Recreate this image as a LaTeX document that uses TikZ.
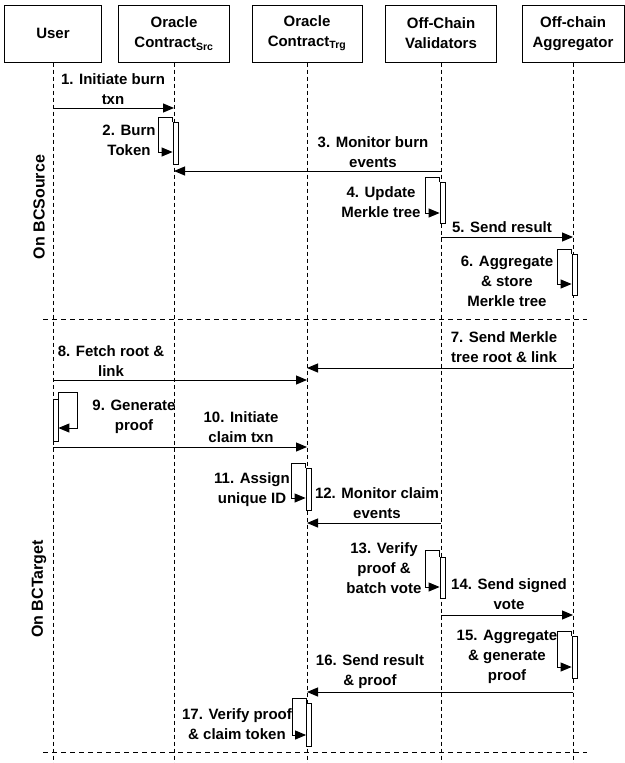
\documentclass[tikz,border=0pt]{standalone}
\usepackage{fontspec}
\setmainfont{Liberation Sans}
\usetikzlibrary{arrows.meta}
\begin{document}
\begin{tikzpicture}[x=1pt,y=-1pt,line width=1pt,
  every node/.style={font=\bfseries\fontsize{15pt}{20pt}\selectfont,align=center,inner sep=0pt},
  head/.style={draw,line width=1pt,minimum height=57pt},
  act/.style={draw,fill=white,line width=0.8pt,minimum width=5pt,anchor=north},
  life/.style={line width=0.9pt,dash pattern=on 4pt off 3pt},
  sep/.style={line width=1pt,dash pattern=on 5pt off 4pt},
  side/.style={rotate=90,font=\bfseries\fontsize{16pt}{20pt}\selectfont},
  >={Triangle[length=11pt,width=9pt]}]
\useasboundingbox (0,0) rectangle (624,763);
\coordinate (bot) at (0,763);
\node[head,minimum width=97pt] (user) at (53,33.5) {User};
\node[head,minimum width=111pt] (src) at (174,33.5) {Oracle\\Contract\textsubscript{Src}};
\node[head,minimum width=110pt] (trg) at (307,33.5) {Oracle\\Contract\textsubscript{Trg}};
\node[head,minimum width=111pt] (val) at (441,33.5) {Off-Chain\\Validators};
\node[head,minimum width=102pt] (agg) at (573,33.5) {Off-chain\\Aggregator};
\foreach \n in {user,src,trg,val,agg}
  \draw[life] (\n.south) -- (\n |- bot);
\coordinate (s1a) at (43,319);
\coordinate (s1b) at (587,319);
\coordinate (s2a) at (43,752);
\coordinate (s2b) at (587,752);
\draw[sep] (s1a) -- (s1b);
\draw[sep] (s2a) -- (s2b);
\node[side] (onsrc) at (39,207) {On BCSource};
\node[side] (ontrg) at (39,589) {On BCTarget};
\node[act,minimum height=42pt] (a2) at (175.5,122) {};
\node[act,minimum height=41pt] (a4) at (442.5,182) {};
\node[act,minimum height=41pt] (a6) at (574.5,254) {};
\node[act,minimum height=42pt] (a9) at (55.5,399) {};
\node[act,minimum height=42pt] (a11) at (308.5,468) {};
\node[act,minimum height=41pt] (a13) at (442.5,557) {};
\node[act,minimum height=42pt] (a15) at (574.5,636) {};
\node[act,minimum height=43pt] (a17) at (309,703) {};
\draw[->] (user |- 0,108) -- (src |- 0,108);
\node (l1) at (113,89) {1. Initiate burn\\txn};
\draw[->] (a2.north west) -- ++(0,-5) -- ++(-14,0) -- ++(0,35) -- ++(14,0);
\node (l2) at (129,140) {2. Burn\\Token};
\draw[->] (val |- 0,171) -- (src |- 0,171);
\node (l3) at (373,152) {3. Monitor burn\\events};
\draw[->] (a4.north west) -- ++(0,-5) -- ++(-14,0) -- ++(0,36) -- ++(14,0);
\node (l4) at (381,202) {4. Update\\Merkle tree};
\draw[->] (val |- 0,237) -- (agg |- 0,237);
\node (l5) at (502,227) {5. Send result};
\draw[->] (a6.north west) -- ++(0,-5) -- ++(-14,0) -- ++(0,35) -- ++(14,0);
\node (l6) at (507,281) {6. Aggregate\\\& store\\Merkle tree};
\draw[->] (agg |- 0,368) -- (trg |- 0,368);
\node (l7) at (504,347) {7. Send Merkle\\tree root \& link};
\draw[->] (user |- 0,380) -- (trg |- 0,380);
\node (l8) at (111,361) {8. Fetch root \&\\link};
\draw[->] (a9.north east) -- ++(0,-7) -- ++(19,0) -- ++(0,36) -- ++(-19,0);
\node (l9) at (134,417) {9. Generate\\proof};
\draw[->] (user |- 0,447) -- (trg |- 0,447);
\node (l10) at (241,427) {10. Initiate\\claim txn};
\draw[->] (a11.north west) -- ++(0,-5) -- ++(-14,0) -- ++(0,35) -- ++(14,0);
\node (l11) at (252,490) {11. Assign\\unique ID};
\draw[->] (val |- 0,523) -- (trg |- 0,523);
\node (l12) at (377,503) {12. Monitor claim\\events};
\draw[->] (a13.north west) -- ++(0,-7) -- ++(-14,0) -- ++(0,37) -- ++(14,0);
\node (l13) at (384,568) {13. Verify\\proof \&\\batch vote};
\draw[->] (val |- 0,615) -- (agg |- 0,615);
\node (l14) at (509,594) {14. Send signed\\vote};
\draw[->] (a15.north west) -- ++(0,-5) -- ++(-14,0) -- ++(0,36) -- ++(14,0);
\node (l15) at (507,657) {15. Aggregate\\\& generate\\proof};
\draw[->] (agg |- 0,692) -- (trg |- 0,692);
\node (l16) at (370,672) {16. Send result\\\& proof};
\draw[->] (a17.north west) -- ++(0,-5) -- ++(-13.5,0) -- ++(0,37) -- ++(13.5,0);
\node (l17) at (237,724) {17. Verify proof\\\& claim token};
\end{tikzpicture}
\end{document}
